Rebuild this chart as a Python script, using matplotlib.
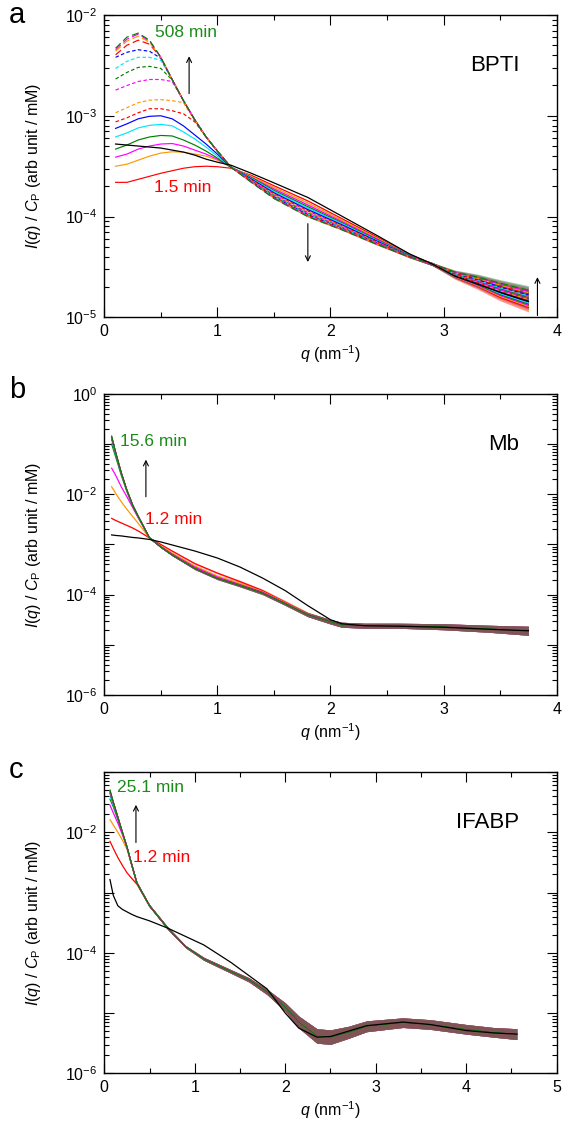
import numpy as np
import matplotlib
matplotlib.use("Agg")
import matplotlib.pyplot as plt
from matplotlib.ticker import LogLocator, MultipleLocator, FuncFormatter, NullFormatter

plt.rcParams['font.family'] = ['Liberation Sans', 'DejaVu Sans']
plt.rcParams['mathtext.fontset'] = 'custom'
plt.rcParams['mathtext.rm'] = 'Liberation Sans'
plt.rcParams['mathtext.it'] = 'Liberation Sans:italic'
plt.rcParams['mathtext.bf'] = 'Liberation Sans:bold'

# ---- panel a: BPTI, log10 I(q)/Cp ----
qa = [0.10, 0.20, 0.30, 0.40, 0.50, 0.60, 0.70, 0.80, 0.90, 1.00, 1.12,
      1.30, 1.50, 1.80, 2.10, 2.40, 2.70, 2.90, 3.10, 3.30, 3.50, 3.75]
a01 = [-3.66, -3.66, -3.63, -3.60, -3.57, -3.545, -3.52, -3.505, -3.50, -3.505, -3.52, -3.59, -3.693, -3.844, -4.019, -4.196, -4.375, -4.47, -4.600, -4.690, -4.800, -4.900]
a02 = [-3.50, -3.48, -3.44, -3.40, -3.37, -3.357, -3.36, -3.38, -3.40, -3.44, -3.51, -3.60, -3.710, -3.865, -4.034, -4.206, -4.379, -4.47, -4.597, -4.684, -4.791, -4.889]
a03 = [-3.41, -3.38, -3.33, -3.30, -3.28, -3.275, -3.30, -3.34, -3.38, -3.43, -3.51, -3.61, -3.725, -3.884, -4.048, -4.215, -4.382, -4.47, -4.593, -4.678, -4.781, -4.877]
a04 = [-3.33, -3.29, -3.24, -3.21, -3.195, -3.20, -3.24, -3.29, -3.35, -3.42, -3.51, -3.613, -3.739, -3.901, -4.060, -4.223, -4.384, -4.47, -4.590, -4.672, -4.772, -4.866]
a05 = [-3.21, -3.17, -3.12, -3.095, -3.085, -3.10, -3.16, -3.23, -3.31, -3.40, -3.51, -3.62, -3.750, -3.915, -4.069, -4.230, -4.387, -4.47, -4.587, -4.666, -4.763, -4.855]
a06 = [-3.125, -3.08, -3.03, -3.005, -3.00, -3.03, -3.10, -3.19, -3.28, -3.38, -3.51, -3.627, -3.763, -3.930, -4.080, -4.237, -4.389, -4.47, -4.583, -4.660, -4.753, -4.843]
a07 = [-3.06, -3.02, -2.97, -2.93, -2.93, -2.95, -2.98, -3.06, -3.21, -3.35, -3.51, -3.633, -3.774, -3.943, -4.090, -4.243, -4.391, -4.47, -4.580, -4.654, -4.744, -4.832]
a08 = [-2.97, -2.92, -2.87, -2.845, -2.84, -2.85, -2.87, -3.045, -3.21, -3.35, -3.51, -3.638, -3.781, -3.953, -4.096, -4.248, -4.393, -4.47, -4.577, -4.648, -4.735, -4.821]
a09 = [-2.745, -2.70, -2.66, -2.64, -2.64, -2.66, -2.85, -3.04, -3.21, -3.35, -3.51, -3.642, -3.789, -3.962, -4.103, -4.252, -4.394, -4.47, -4.573, -4.642, -4.725, -4.809]
a10 = [-2.635, -2.57, -2.52, -2.51, -2.53, -2.645, -2.85, -3.04, -3.21, -3.35, -3.51, -3.646, -3.795, -3.970, -4.108, -4.256, -4.395, -4.47, -4.570, -4.636, -4.716, -4.798]
a11 = [-2.53, -2.46, -2.42, -2.42, -2.45, -2.645, -2.85, -3.04, -3.21, -3.35, -3.51, -3.648, -3.800, -3.975, -4.112, -4.258, -4.396, -4.47, -4.567, -4.630, -4.707, -4.787]
a12 = [-2.42, -2.37, -2.345, -2.36, -2.43, -2.64, -2.85, -3.04, -3.21, -3.35, -3.51, -3.651, -3.805, -3.981, -4.117, -4.261, -4.397, -4.47, -4.563, -4.624, -4.697, -4.775]
a13 = [-2.395, -2.30, -2.25, -2.29, -2.42, -2.64, -2.85, -3.04, -3.21, -3.35, -3.51, -3.654, -3.809, -3.987, -4.121, -4.264, -4.398, -4.47, -4.560, -4.618, -4.688, -4.764]
a14 = [-2.36, -2.26, -2.21, -2.27, -2.42, -2.64, -2.85, -3.04, -3.21, -3.35, -3.51, -3.656, -3.812, -3.991, -4.123, -4.266, -4.399, -4.47, -4.557, -4.612, -4.679, -4.753]
a15 = [-2.345, -2.24, -2.19, -2.26, -2.42, -2.64, -2.85, -3.04, -3.21, -3.35, -3.51, -3.657, -3.815, -3.994, -4.126, -4.267, -4.399, -4.47, -4.553, -4.606, -4.669, -4.741]
a16 = [-2.33, -2.22, -2.18, -2.25, -2.42, -2.64, -2.85, -3.04, -3.21, -3.35, -3.51, -3.66, -3.820, -4.000, -4.130, -4.270, -4.400, -4.47, -4.550, -4.600, -4.660, -4.730]
a_black = [-3.28, -3.29, -3.30, -3.31, -3.32, -3.34, -3.36, -3.39, -3.43, -3.46, -3.49, -3.57, -3.665, -3.81, -3.995, -4.18, -4.37, -4.47, -4.59, -4.67, -4.75, -4.84]
a_noise = [0, 0, 0, 0, 0, 0, 0, 0, 0, 0, 0, 0.003, 0.004, 0.006, 0.006, 0.008, 0.01, 0.015, 0.02, 0.03, 0.035, 0.045]

# ---- panel b: Mb ----
qb = [0.065, 0.10, 0.15, 0.20, 0.25, 0.30, 0.40, 0.50, 0.60, 0.80, 1.00,
      1.20, 1.40, 1.60, 1.80, 2.00, 2.10, 2.30, 2.60, 3.00, 3.40, 3.75]
b01 = [-2.48, -2.52, -2.57, -2.62, -2.67, -2.73, -2.87, -3.00, -3.13, -3.38, -3.57, -3.74, -3.92, -4.15, -4.39, -4.54, -4.60, -4.62, -4.62, -4.64, -4.68, -4.72]
b02 = [-1.85, -1.98, -2.15, -2.30, -2.44, -2.58, -2.87, -3.03, -3.17, -3.43, -3.63, -3.78, -3.94, -4.16, -4.39, -4.54, -4.60, -4.62, -4.62, -4.64, -4.68, -4.72]
b03 = [-1.48, -1.62, -1.85, -2.05, -2.26, -2.47, -2.87, -3.04, -3.19, -3.45, -3.65, -3.80, -3.95, -4.17, -4.40, -4.54, -4.60, -4.62, -4.62, -4.64, -4.68, -4.72]
b04 = [-1.00, -1.25, -1.62, -1.95, -2.23, -2.45, -2.87, -3.05, -3.20, -3.47, -3.67, -3.81, -3.96, -4.18, -4.40, -4.54, -4.60, -4.62, -4.62, -4.64, -4.68, -4.72]
b05 = [-0.92, -1.20, -1.59, -1.93, -2.22, -2.44, -2.87, -3.05, -3.21, -3.48, -3.68, -3.82, -3.97, -4.18, -4.40, -4.54, -4.60, -4.62, -4.62, -4.64, -4.68, -4.72]
b06 = [-0.88, -1.17, -1.58, -1.92, -2.21, -2.44, -2.87, -3.05, -3.21, -3.48, -3.68, -3.82, -3.97, -4.18, -4.40, -4.54, -4.60, -4.62, -4.62, -4.64, -4.68, -4.72]
b07 = [-0.87, -1.17, -1.57, -1.92, -2.21, -2.44, -2.87, -3.05, -3.21, -3.48, -3.68, -3.82, -3.97, -4.18, -4.40, -4.54, -4.60, -4.62, -4.62, -4.64, -4.68, -4.72]
b08 = [-0.86, -1.16, -1.57, -1.92, -2.21, -2.44, -2.87, -3.05, -3.21, -3.48, -3.68, -3.82, -3.97, -4.18, -4.40, -4.54, -4.60, -4.62, -4.62, -4.64, -4.68, -4.72]
b09 = [-0.85, -1.16, -1.57, -1.92, -2.21, -2.44, -2.87, -3.05, -3.21, -3.48, -3.68, -3.82, -3.97, -4.18, -4.40, -4.54, -4.60, -4.62, -4.62, -4.64, -4.68, -4.72]
b10 = [-0.84, -1.16, -1.57, -1.92, -2.21, -2.44, -2.87, -3.05, -3.21, -3.48, -3.68, -3.82, -3.97, -4.18, -4.40, -4.54, -4.60, -4.62, -4.62, -4.64, -4.68, -4.72]
b_black = [-2.81, -2.82, -2.83, -2.845, -2.86, -2.87, -2.90, -2.95, -3.01, -3.13, -3.27, -3.45, -3.67, -3.92, -4.22, -4.50, -4.58, -4.62, -4.63, -4.65, -4.69, -4.72]
b_noise = [0.01, 0.01, 0.01, 0.01, 0.01, 0.01, 0.01, 0.015, 0.015, 0.02, 0.02, 0.025, 0.03, 0.035, 0.04, 0.045, 0.05, 0.05, 0.05, 0.06, 0.07, 0.09]

# ---- panel c: IFABP ----
qc = [0.063, 0.10, 0.15, 0.20, 0.25, 0.30, 0.36, 0.50, 0.70, 0.90, 1.10, 1.40, 1.60,
      1.80, 2.00, 2.15, 2.35, 2.50, 2.70, 2.90, 3.30, 3.60, 4.00, 4.30, 4.56]
c01 = [-2.15, -2.27, -2.42, -2.55, -2.67, -2.76, -2.86, -3.22, -3.59, -3.90, -4.10, -4.31, -4.45, -4.65, -4.90, -5.15, -5.38, -5.40, -5.32, -5.22, -5.16, -5.19, -5.27, -5.32, -5.35]
c02 = [-1.79, -1.88, -2.00, -2.13, -2.28, -2.53, -2.85, -3.22, -3.59, -3.90, -4.10, -4.31, -4.45, -4.65, -4.90, -5.15, -5.38, -5.40, -5.32, -5.22, -5.16, -5.19, -5.27, -5.32, -5.35]
c03 = [-1.55, -1.68, -1.85, -2.04, -2.25, -2.52, -2.84, -3.22, -3.59, -3.90, -4.10, -4.31, -4.45, -4.65, -4.90, -5.15, -5.38, -5.40, -5.32, -5.22, -5.16, -5.19, -5.27, -5.32, -5.35]
c04 = [-1.45, -1.58, -1.79, -2.01, -2.24, -2.52, -2.84, -3.22, -3.59, -3.90, -4.10, -4.31, -4.45, -4.65, -4.90, -5.15, -5.38, -5.40, -5.32, -5.22, -5.16, -5.19, -5.27, -5.32, -5.35]
c05 = [-1.40, -1.55, -1.77, -2.00, -2.24, -2.52, -2.84, -3.22, -3.59, -3.90, -4.10, -4.31, -4.45, -4.65, -4.90, -5.15, -5.38, -5.40, -5.32, -5.22, -5.16, -5.19, -5.27, -5.32, -5.35]
c06 = [-1.35, -1.52, -1.76, -2.00, -2.24, -2.52, -2.84, -3.22, -3.59, -3.90, -4.10, -4.31, -4.45, -4.65, -4.90, -5.15, -5.38, -5.40, -5.32, -5.22, -5.16, -5.19, -5.27, -5.32, -5.35]
c07 = [-1.33, -1.51, -1.75, -2.00, -2.24, -2.52, -2.84, -3.22, -3.59, -3.90, -4.10, -4.31, -4.45, -4.65, -4.90, -5.15, -5.38, -5.40, -5.32, -5.22, -5.16, -5.19, -5.27, -5.32, -5.35]
c08 = [-1.32, -1.51, -1.75, -2.00, -2.24, -2.52, -2.84, -3.22, -3.59, -3.90, -4.10, -4.31, -4.45, -4.65, -4.90, -5.15, -5.38, -5.40, -5.32, -5.22, -5.16, -5.19, -5.27, -5.32, -5.35]
c09 = [-1.31, -1.50, -1.75, -2.00, -2.24, -2.52, -2.84, -3.22, -3.59, -3.90, -4.10, -4.31, -4.45, -4.65, -4.90, -5.15, -5.38, -5.40, -5.32, -5.22, -5.16, -5.19, -5.27, -5.32, -5.35]
c10 = [-1.30, -1.50, -1.75, -2.00, -2.24, -2.52, -2.84, -3.22, -3.59, -3.90, -4.10, -4.31, -4.45, -4.65, -4.90, -5.15, -5.38, -5.40, -5.32, -5.22, -5.16, -5.19, -5.27, -5.32, -5.35]
c_black = [-2.785, -3.05, -3.22, -3.28, -3.32, -3.36, -3.40, -3.47, -3.59, -3.73, -3.87, -4.16, -4.38, -4.60, -5.00, -5.25, -5.40, -5.39, -5.30, -5.21, -5.15, -5.19, -5.29, -5.33, -5.35]
c_noise = [0.01, 0.01, 0.01, 0.01, 0.01, 0.015, 0.015, 0.02, 0.02, 0.02, 0.025, 0.03, 0.035, 0.045, 0.07, 0.10, 0.12, 0.12, 0.10, 0.09, 0.08, 0.08, 0.08, 0.08, 0.09]

RED, ORANGE, MAGENTA, GREEN, CYAN, BLUE = '#ff0000', '#ff9900', '#ff00ff', '#008000', '#00e5ff', '#0000ff'
cycle = [RED, ORANGE, MAGENTA, GREEN, CYAN, BLUE]
TXT_GREEN = '#1a8c1a'


def draw(ax, q, curves, styles, noise, black):
    q = np.array(q)
    noise = np.array(noise)
    for i, y in enumerate(curves):
        c = cycle[i % 6]
        y = np.array(y)
        ax.fill_between(q, 10 ** (y - noise), 10 ** (y + noise), color=c, lw=0, alpha=0.4)
        ax.plot(q, 10 ** y, color=c, ls=styles[i], lw=0.85)
    ax.plot(q, 10 ** np.array(black), color='k', lw=0.9)


def even_fmt(v, pos):
    e = int(round(np.log10(v)))
    return r'$10^{%d}$' % e if e % 2 == 0 else ''


def all_fmt(v, pos):
    e = int(round(np.log10(v)))
    return r'$10^{%d}$' % e


def style_ax(ax, xmax, ylo, yhi, fmt):
    ax.set_yscale('log')
    ax.set_xlim(0, xmax)
    ax.set_ylim(ylo, yhi)
    ax.xaxis.set_major_locator(MultipleLocator(1))
    ax.xaxis.set_minor_locator(MultipleLocator(0.5))
    ax.yaxis.set_major_locator(LogLocator(base=10, numticks=20))
    ax.yaxis.set_minor_locator(LogLocator(base=10, subs=np.arange(2, 10), numticks=20))
    ax.yaxis.set_major_formatter(FuncFormatter(fmt))
    ax.yaxis.set_minor_formatter(NullFormatter())
    ax.tick_params(which='both', direction='in', top=True, right=True, labelsize=11.5, width=0.8)
    ax.tick_params(which='major', length=7, pad=5)
    ax.tick_params(which='minor', length=3.5)
    for s in ax.spines.values():
        s.set_linewidth(1.0)
    ax.set_xlabel(r'$q$ (nm$^{-1}$)', fontsize=11.5, labelpad=3)
    ax.set_ylabel(r'$I$($q$) / $C_{\mathrm{P}}$ (arb unit / mM)', fontsize=11.5)
    ax.yaxis.set_label_coords(-0.135, 0.5)


def arrow(ax, x, y0, y1):
    ax.annotate('', xy=(x, y1), xytext=(x, y0),
                arrowprops=dict(arrowstyle='->', lw=0.8, color='k', mutation_scale=9,
                                shrinkA=0, shrinkB=0))


fig = plt.figure(figsize=(5.64, 11.33), dpi=100)
axa = fig.add_axes([0.1849, 0.7198, 0.8021, 0.2670])
axb = fig.add_axes([0.1849, 0.3866, 0.8021, 0.2657])
axc = fig.add_axes([0.1849, 0.0527, 0.8021, 0.2659])

styles_a = ['-'] * 6 + [(0, (3, 2))] * 6 + [(0, (6, 3))] * 4
draw(axa, qa, [a01, a02, a03, a04, a05, a06, a07, a08, a09, a10, a11, a12, a13, a14, a15, a16],
     styles_a, a_noise, a_black)
style_ax(axa, 4, 1e-5, 1e-2, all_fmt)
axa.text(0.448, 10 ** -2.17, '508 min', color=TXT_GREEN, fontsize=12.5, va='center')
axa.text(0.44, 10 ** -3.713, '1.5 min', color=RED, fontsize=12.5, va='center')
axa.text(3.67, 10 ** -2.5, 'BPTI', fontsize=16, ha='right', va='center')
arrow(axa, 0.75, 10 ** -2.78, 10 ** -2.41)
arrow(axa, 1.80, 10 ** -4.07, 10 ** -4.45)
arrow(axa, 3.83, 10 ** -4.98, 10 ** -4.60)

draw(axb, qb, [b01, b02, b03, b04, b05, b06, b07, b08, b09, b10], ['-'] * 10, b_noise, b_black)
style_ax(axb, 4, 1e-6, 1e0, even_fmt)
axb.text(0.139, 10 ** -0.95, '15.6 min', color=TXT_GREEN, fontsize=12.5, va='center')
axb.text(0.36, 10 ** -2.50, '1.2 min', color=RED, fontsize=12.5, va='center')
axb.text(3.67, 10 ** -1.0, 'Mb', fontsize=16, ha='right', va='center')
arrow(axb, 0.368, 10 ** -2.05, 10 ** -1.31)

draw(axc, qc, [c01, c02, c03, c04, c05, c06, c07, c08, c09, c10], ['-'] * 10, c_noise, c_black)
style_ax(axc, 5, 1e-6, 1e-1, even_fmt)
axc.text(0.14, 10 ** -1.264, '25.1 min', color=TXT_GREEN, fontsize=12.5, va='center')
axc.text(0.317, 10 ** -2.42, '1.2 min', color=RED, fontsize=12.5, va='center')
axc.text(4.59, 10 ** -1.83, 'IFABP', fontsize=16, ha='right', va='center')
arrow(axc, 0.35, 10 ** -2.17, 10 ** -1.545)

fig.text(0.016, 1 - 15 / 1133, 'a', fontsize=21, va='center')
fig.text(0.016, 1 - 390 / 1133, 'b', fontsize=21, va='center')
fig.text(0.016, 1 - 770 / 1133, 'c', fontsize=21, va='center')

fig.savefig('out.png', dpi=100)
